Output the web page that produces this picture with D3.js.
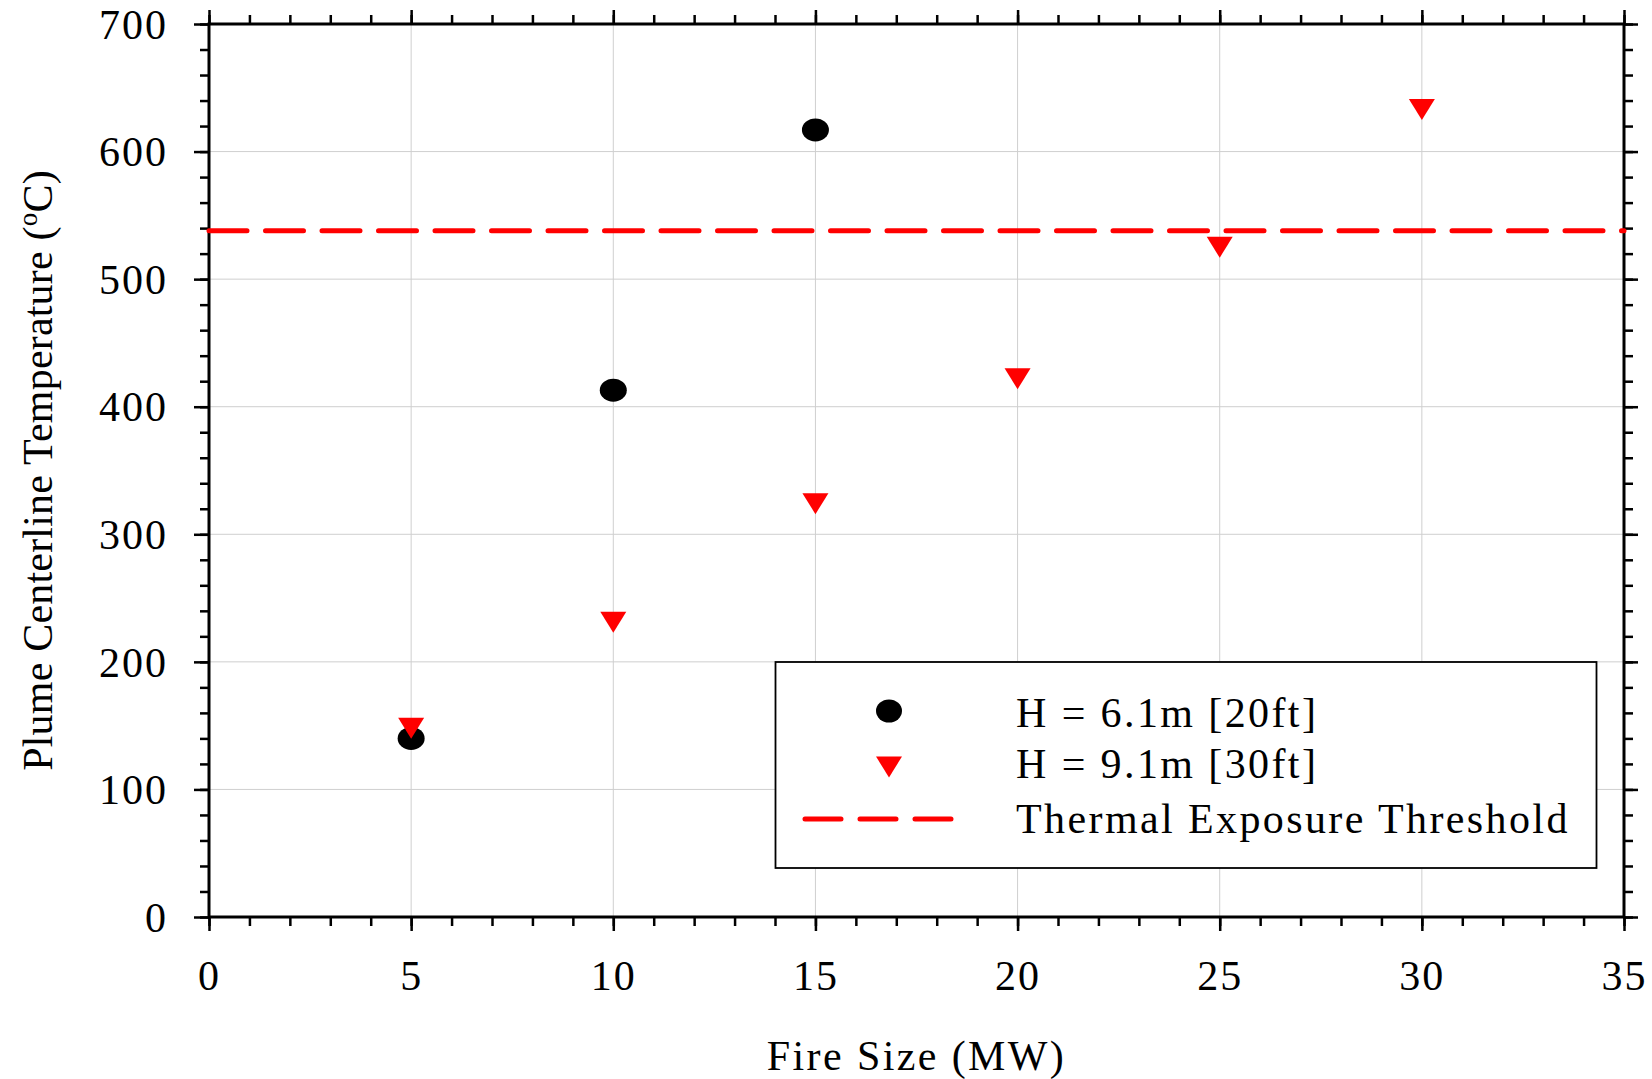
<!DOCTYPE html>
<html>
<head>
<meta charset="utf-8">
<script src="https://cdn.jsdelivr.net/npm/d3@7"></script>
<style>
html,body{margin:0;padding:0;background:#fff;}
svg{display:block;}
text{font-family:"Liberation Serif","Times New Roman",serif;fill:#000;}
</style>
</head>
<body>
<svg id="chart" width="1652" height="1079"></svg>
<script>
// ---- data ----
const fireSizeLow = [5, 10, 15];
const tempLow = [140, 413, 617];          // H = 6.1m [20ft]
const fireSizeHigh = [5, 10, 15, 20, 25, 30];
const tempHigh = [148, 231, 324, 422, 525, 633]; // H = 9.1m [30ft]
const threshold = 538;
const xTicks = [0, 5, 10, 15, 20, 25, 30, 35];
const yTicks = [0, 100, 200, 300, 400, 500, 600, 700];
const seriesNames = ["H = 6.1m [20ft]", "H = 9.1m [30ft]", "Thermal Exposure Threshold"];
const xTitle = "Fire Size (MW)";

// ---- layout ----
const svg = d3.select("#chart");
const L = 209, T = 24, W = 1415, H = 893;
const x = d3.scaleLinear().domain([0, 35]).range([L, L + W]);
const y = d3.scaleLinear().domain([0, 700]).range([T + H, T]);
const xMinor = d3.range(0, 35.001, 1);
const yMinor = d3.range(0, 700.001, 20);

// grid
const g = svg.append("g");
g.selectAll(".gx").data(xTicks.slice(1, -1)).enter().append("line")
  .attr("x1", d => x(d)).attr("x2", d => x(d)).attr("y1", T).attr("y2", T + H)
  .attr("stroke", "#cfcfcf").attr("stroke-width", 1);
g.selectAll(".gy").data(yTicks.slice(1, -1)).enter().append("line")
  .attr("y1", d => y(d)).attr("y2", d => y(d)).attr("x1", L).attr("x2", L + W)
  .attr("stroke", "#cfcfcf").attr("stroke-width", 1);

// axes with outward ticks on all four sides
function styleAxis(sel) {
  sel.select(".domain").remove();
  sel.selectAll("line").attr("stroke", "#000").attr("stroke-width", 2.5);
}
const tickFont = sel => sel.selectAll("text")
  .style("font-size", "42px").style("letter-spacing", "2px")
  .style("font-family", "'Liberation Serif','Times New Roman',serif").attr("fill", "#000");

// bottom
const bMinor = svg.append("g").attr("transform", `translate(0,${T + H})`)
  .call(d3.axisBottom(x).tickValues(xMinor).tickSize(9).tickFormat(""));
styleAxis(bMinor);
const bMajor = svg.append("g").attr("transform", `translate(0,${T + H})`)
  .call(d3.axisBottom(x).tickValues(xTicks).tickSize(14).tickPadding(28).tickFormat(d3.format("d")));
styleAxis(bMajor); tickFont(bMajor);
bMajor.selectAll("text").attr("dy", null).attr("y", 73).attr("dominant-baseline", "auto");

// top
const tMinor = svg.append("g").attr("transform", `translate(0,${T})`)
  .call(d3.axisTop(x).tickValues(xMinor).tickSize(9).tickFormat(""));
styleAxis(tMinor);
const tMajor = svg.append("g").attr("transform", `translate(0,${T})`)
  .call(d3.axisTop(x).tickValues(xTicks).tickSize(14).tickFormat(""));
styleAxis(tMajor);

// left
const lMinor = svg.append("g").attr("transform", `translate(${L},0)`)
  .call(d3.axisLeft(y).tickValues(yMinor).tickSize(9).tickFormat(""));
styleAxis(lMinor);
const lMajor = svg.append("g").attr("transform", `translate(${L},0)`)
  .call(d3.axisLeft(y).tickValues(yTicks).tickSize(15).tickPadding(26).tickFormat(d3.format("d")));
styleAxis(lMajor); tickFont(lMajor);
lMajor.selectAll("text").attr("dy", "0.34em");

// right
const rMinor = svg.append("g").attr("transform", `translate(${L + W},0)`)
  .call(d3.axisRight(y).tickValues(yMinor).tickSize(9).tickFormat(""));
styleAxis(rMinor);
const rMajor = svg.append("g").attr("transform", `translate(${L + W},0)`)
  .call(d3.axisRight(y).tickValues(yTicks).tickSize(14).tickFormat(""));
styleAxis(rMajor);

// frame
svg.append("rect").attr("x", L).attr("y", T).attr("width", W).attr("height", H)
  .attr("fill", "none").attr("stroke", "#000").attr("stroke-width", 3);

// threshold line
svg.append("line")
  .attr("x1", x(0)).attr("x2", x(35)).attr("y1", y(threshold)).attr("y2", y(threshold))
  .attr("stroke", "#ff0000").attr("stroke-width", 5).attr("stroke-linecap", "round")
  .attr("stroke-dasharray", "38 18.5");

// series markers
const triPath = "M-13,-10.5 L13,-10.5 L0,10.5 Z";
svg.selectAll(".circ").data(fireSizeLow).enter().append("ellipse")
  .attr("cx", d => x(d)).attr("cy", (d, i) => y(tempLow[i]))
  .attr("rx", 13.5).attr("ry", 11.5).attr("fill", "#000");
svg.selectAll(".tri").data(fireSizeHigh).enter().append("path")
  .attr("transform", (d, i) => `translate(${x(d)},${y(tempHigh[i])})`)
  .attr("d", triPath).attr("fill", "#ff0000");

// legend
const lg = svg.append("g");
lg.append("rect").attr("x", 775.5).attr("y", 662).attr("width", 821).attr("height", 206)
  .attr("fill", "#fff").attr("stroke", "#000").attr("stroke-width", 1.8);
lg.append("ellipse").attr("cx", 889).attr("cy", 711).attr("rx", 13).attr("ry", 11.5).attr("fill", "#000");
lg.append("path").attr("transform", "translate(889,767)").attr("d", triPath).attr("fill", "#ff0000");
lg.append("line").attr("x1", 805).attr("x2", 955).attr("y1", 819).attr("y2", 819)
  .attr("stroke", "#ff0000").attr("stroke-width", 5).attr("stroke-linecap", "round")
  .attr("stroke-dasharray", "36 19");
const lgBase = [727, 778, 833];
lg.selectAll(".lt").data(seriesNames).enter().append("text")
  .attr("x", 1016).attr("y", (d, i) => lgBase[i])
  .style("font-size", "42px").style("letter-spacing", "2.4px").text(d => d);

// axis titles
svg.append("text").attr("x", x(17.5)).attr("y", 1070).attr("text-anchor", "middle")
  .style("font-size", "42px").style("letter-spacing", "2.4px").text(xTitle);

const yt = svg.append("text").attr("transform", `translate(52,${T + H / 2}) rotate(-90)`)
  .attr("text-anchor", "middle").style("font-size", "42px").style("letter-spacing", "0.2px");
yt.append("tspan").text("Plume Centerline Temperature (");
yt.append("tspan").text("o").style("font-size", "27px").attr("dy", "-15");
yt.append("tspan").text("C)").attr("dy", "15");
</script>
</body>
</html>
